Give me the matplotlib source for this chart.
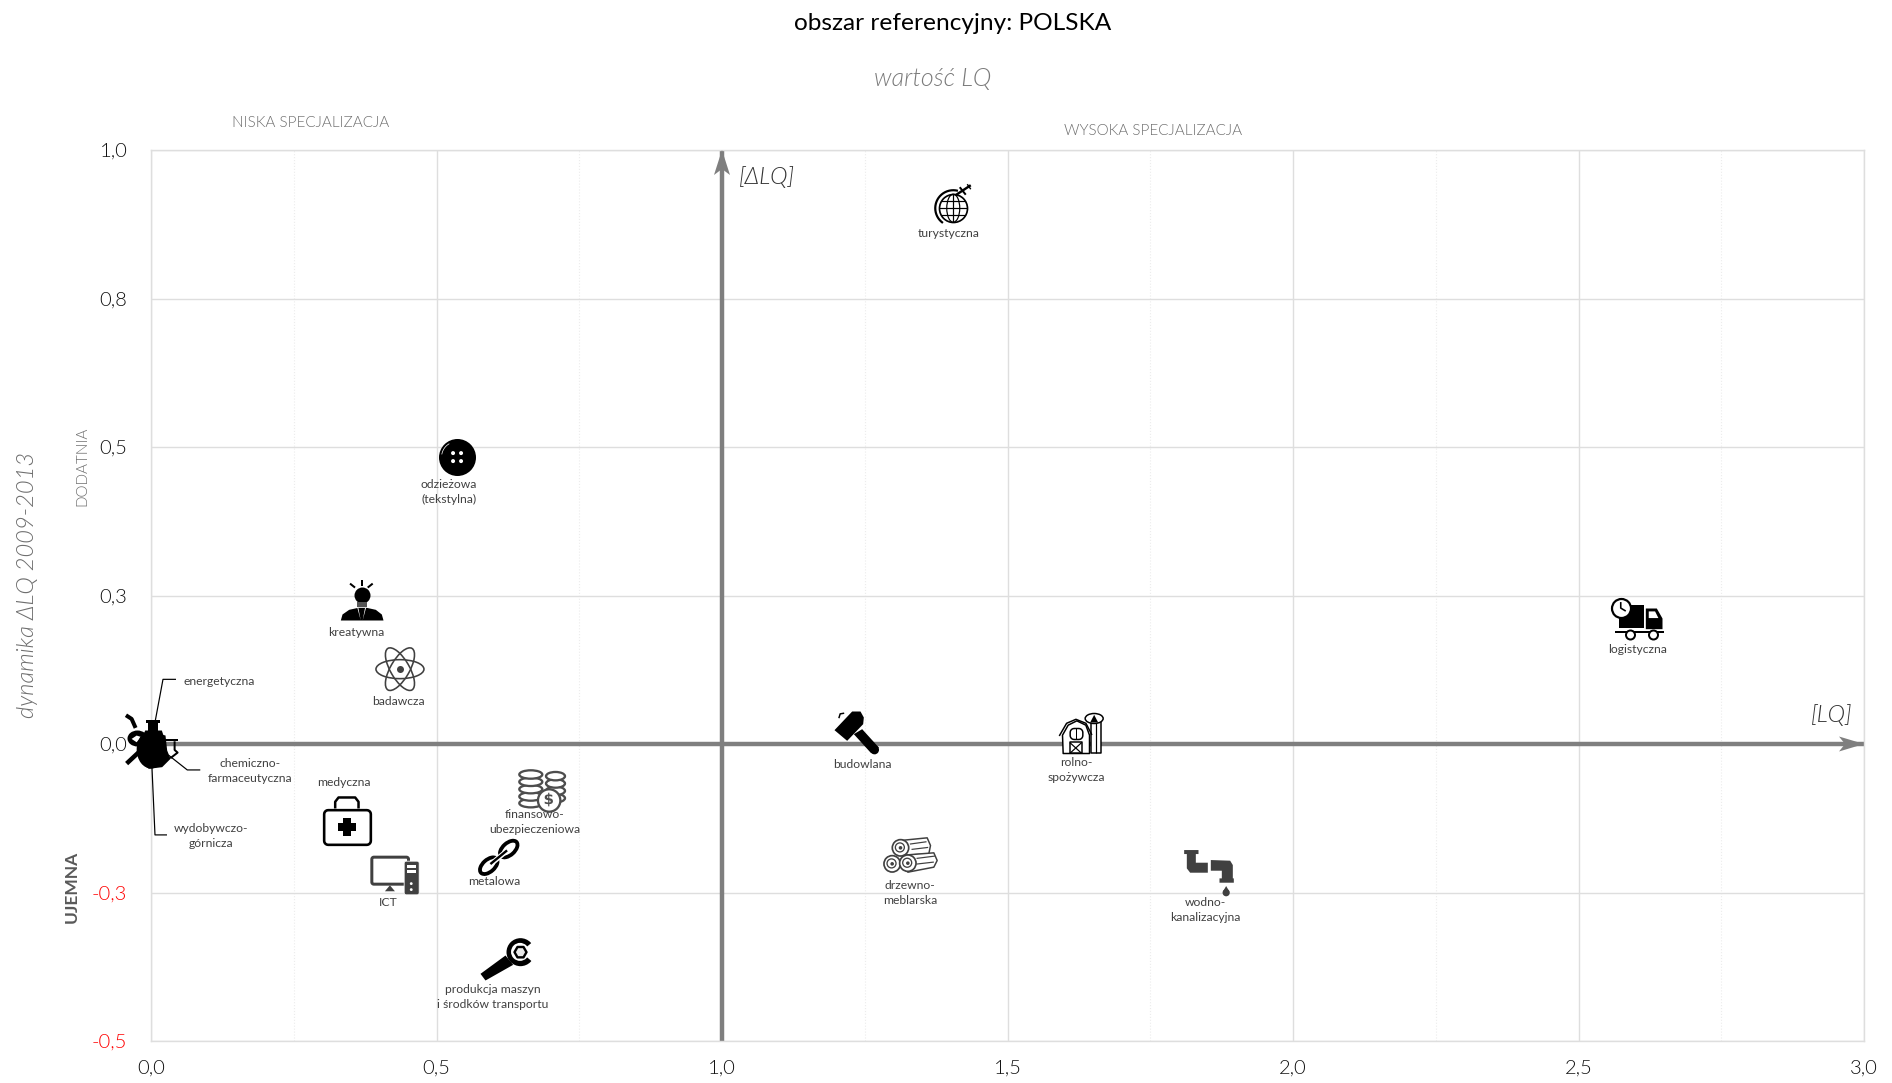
import numpy as np
import matplotlib
matplotlib.use("Agg")
import matplotlib.pyplot as plt
from matplotlib.path import Path
from matplotlib.markers import MarkerStyle
from matplotlib.textpath import TextPath
from matplotlib.font_manager import FontProperties
from matplotlib.transforms import Affine2D

plt.rcParams['font.family'] = ['Lato', 'DejaVu Sans']

# ---------- data ----------
sectors = ["turystyczna", "odzieżowa", "kreatywna", "badawcza", "logistyczna", "budowlana",
           "rolno", "drzewno", "wodno", "finansowo", "medyczna", "ICT", "metalowa", "produkcja",
           "energetyczna", "chemiczna", "wydobywcza"]
lq_values = [1.405, 0.536, 0.369, 0.436, 2.602, 1.235, 1.628, 1.329, 1.852, 0.684, 0.343, 0.426,
             0.609, 0.620, 0.004, 0.025, 0.004]
dlq_values = [0.902, 0.483, 0.242, 0.126, 0.212, 0.021, 0.018, -0.187, -0.215, -0.075, -0.131,
              -0.221, -0.192, -0.364, 0.023, -0.010, -0.015]
sector_labels = ["turystyczna", "odzieżowa\n(tekstylna)", "kreatywna", "badawcza", "logistyczna",
                 "budowlana", "rolno-\nspożywcza", "drzewno-\nmeblarska", "wodno-\nkanalizacyjna",
                 "finansowo-\nubezpieczeniowa", "medyczna", "ICT", "metalowa",
                 "produkcja maszyn\ni środków transportu", "energetyczna",
                 "chemiczno-\nfarmaceutyczna", "wydobywczo-\ngórnicza"]
x_ticks = [0.0, 0.5, 1.0, 1.5, 2.0, 2.5, 3.0]
x_tick_labels = ["0,0", "0,5", "1,0", "1,5", "2,0", "2,5", "3,0"]
x_minor = [0.25, 0.75, 1.25, 1.75, 2.25, 2.75]
y_ticks = [-0.5, -0.25, 0.0, 0.25, 0.5, 0.75, 1.0]
y_tick_labels = ["-0,5", "-0,3", "0,0", "0,3", "0,5", "0,8", "1,0"]

# label offsets from the point, pixels (x right, y down)
label_offsets = [(-5, 25), (-8, 34.5), (-5, 32), (-2, 32), (1, 31), (6, 33), (-4, 37), (0, 38),
                 (-3, 38), (-7, 33), (-3, -39), (-6, 27), (-4, 23), (-12, 37), (66, -49),
                 (85, 21), (58, 83)]

W, H = 1892, 1083
L, R, T, B = 151, 1864, 150, 1041
GREY = "#7f7f7f"
GTXT = "#6e6e6e"
GRID = "#dedede"
TXT = "#404040"
LIGHT = 300

fig = plt.figure(figsize=(W / 100, H / 100), dpi=100, facecolor="white")
ax = fig.add_axes([L / W, 1 - B / H, (R - L) / W, (B - T) / H])
ax.set_xlim(0, 3)
ax.set_ylim(-0.5, 1)
ax.set_xticks(x_ticks, x_tick_labels)
ax.set_yticks(y_ticks, y_tick_labels)
ax.set_xticks(x_minor, minor=True)
ax.tick_params(which="both", length=0)
ax.tick_params(axis="x", pad=13.5, labelsize=14.5, labelcolor="#111111")
ax.tick_params(axis="y", pad=17, labelsize=14.5, labelcolor="#111111")
for lab in ax.get_xticklabels() + ax.get_yticklabels():
    lab.set_fontweight(LIGHT)
for lab, v in zip(ax.get_yticklabels(), y_ticks):
    if v < 0:
        lab.set_color("#ff0000")
ax.grid(True, which="major", color=GRID, lw=1.0, zorder=0)
ax.grid(True, which="minor", axis="x", color="#ececec", lw=0.8, ls=":", zorder=0)
ax.set_axisbelow(True)
for s in ax.spines.values():
    s.set_color(GRID)
    s.set_linewidth(1.0)


# ---------- shape helpers (local pixel coordinates, y pointing down) ----------
def poly(pts, closed=True):
    pts = [tuple(p) for p in pts]
    if closed:
        pts = pts + [pts[0]]
        codes = [Path.MOVETO] + [Path.LINETO] * (len(pts) - 2) + [Path.CLOSEPOLY]
    else:
        codes = [Path.MOVETO] + [Path.LINETO] * (len(pts) - 1)
    return Path(pts, codes)


def rect(x0, y0, x1, y1):
    return poly([(x0, y0), (x1, y0), (x1, y1), (x0, y1)])


def ell(cx, cy, rx, ry=None, rot=0):
    ry = rx if ry is None else ry
    return Path.unit_circle().transformed(Affine2D().scale(rx, ry).rotate_deg(rot).translate(cx, cy))


def arc(cx, cy, r, a0, a1, n=24):
    a = np.radians(np.linspace(a0, a1, n))
    return poly(np.c_[cx + r * np.cos(a), cy + r * np.sin(a)], closed=False)


def rrect(x0, y0, x1, y1, r):
    a = [(x1 - r, y0 + r, -90, 0), (x1 - r, y1 - r, 0, 90), (x0 + r, y1 - r, 90, 180), (x0 + r, y0 + r, 180, 270)]
    pts = []
    for cx, cy, s, e in a:
        for t in np.radians(np.linspace(s, e, 6)):
            pts.append((cx + r * np.cos(t), cy + r * np.sin(t)))
    return poly(pts)


def Z(pts, c):
    return [((x - c[0]) / 3, (y - c[1]) / 3) for x, y in pts]


def glyph(s, size, cx=0, cy=0):
    tp = TextPath((0, 0), s, size=size, prop=FontProperties(family="DejaVu Sans", weight="bold"))
    v = tp.vertices
    m = (v.min(0) + v.max(0)) / 2
    return Path((v - m) * [1, -1] + [cx, cy], tp.codes)


def draw_icon(ax, x, y, layers, z=4):
    for path, face, edge, lw in layers:
        p = path.transformed(Affine2D().scale(1, -1))
        r = np.abs(p.vertices).max()
        if r == 0:
            continue
        ax.scatter([x], [y], marker=MarkerStyle(p), s=(2 * r * 0.72) ** 2, facecolors=face,
                   edgecolors=edge, linewidths=lw * 0.72, clip_on=False, zorder=z)


K = "black"
D = TXT
WH = "white"
NO = "none"


def icon_travel():
    return [(arc(0, 0, 18, 125, 285), NO, K, 2.2),
            (ell(0, 0, 14), WH, K, 1.7), (ell(0, 0, 6.5, 14), NO, K, 1.2),
            (poly([(0, -14), (0, 14)], False), NO, K, 1.2), (poly([(-14, 0), (14, 0)], False), NO, K, 1.2),
            (poly([(-12, -7), (12, -7)], False), NO, K, 1.2), (poly([(-12, 7), (12, 7)], False), NO, K, 1.2),
            (poly([(2.3, -13), (17.5, -23)], False), NO, K, 2.4),
            (poly([(6.5, -21), (12.5, -13.5)], False), NO, K, 2),
            (poly([(14, -24), (17.5, -19)], False), NO, K, 1.4)]


def icon_button():
    L_ = [(ell(0, 0, 18.5), K, K, 0)]
    for a in (-4, 4):
        for b in (-4, 4):
            L_.append((ell(a, b, 2), WH, NO, 0))
    L_.append((arc(0, 0, 15.5, 190, 240), NO, WH, 0.7))
    return L_


def icon_creative():
    c = (125, 540)
    sh = Z([(60, 600), (65, 582), (85, 568), (112, 562), (138, 562), (165, 568), (183, 582), (188, 600)], c)
    return [(poly(Z([(125, 478), (125, 497)], c), False), NO, K, 2),
            (poly(Z([(90, 490), (105, 502)], c), False), NO, K, 2),
            (poly(Z([(158, 490), (143, 502)], c), False), NO, K, 2),
            (ell(0, -5, 8), K, K, 0),
            (rect(-5, 2, 5, 7), "#555555", NO, 0),
            (poly(sh), K, K, 0),
            (poly(Z([(112, 563), (122, 600), (115, 563)], c)), WH, NO, 0),
            (poly(Z([(138, 563), (128, 600), (135, 563)], c)), WH, NO, 0)]


def icon_atom():
    return [(ell(0, 0, 24, 9.5, 0), NO, D, 1.6), (ell(0, 0, 24, 9.5, 60), NO, D, 1.6),
            (ell(0, 0, 24, 9.5, -60), NO, D, 1.6), (ell(0, 0, 3.5), D, D, 0)]


def icon_truck():
    c = (140, 115)
    return [(rect(*Z([(85, 75)], c)[0], *Z([(160, 145)], c)[0]), K, K, 0),
            (poly(Z([(165, 85), (198, 85), (215, 115), (215, 147), (165, 147)], c)), K, K, 0),
            (poly(Z([(176, 95), (195, 95), (205, 115), (176, 115)], c)), WH, NO, 0),
            (rect(*Z([(75, 154)], c)[0], *Z([(222, 160)], c)[0]), K, K, 0),
            (ell(-7, 16.5, 4.5), WH, K, 2), (ell(16, 16.5, 4.5), WH, K, 2),
            (ell(-16, -10, 9.5), WH, K, 2.2),
            (poly([(-16, -16), (-16, -10), (-11, -7)], False), NO, K, 1.6)]


def icon_hammer():
    c = (108, 125)
    return [(poly(Z([(42, 118), (95, 62), (120, 62), (130, 80), (128, 100), (80, 150)], c)), K, K, 0),
            (poly(Z([(100, 130), (125, 115), (175, 170), (165, 190), (150, 185)], c)), K, K, 0),
            (ell(*Z([(162, 177)], c)[0], 4.5), K, K, 0),
            (poly(Z([(56, 85), (60, 72), (72, 70)], c), False), NO, K, 1.5)]


def icon_barn():
    c = (782, 130)
    lw = 1.5
    return [(rect(*Z([(812, 95)], c)[0], *Z([(842, 190)], c)[0]), WH, K, lw),
            (poly(Z([(827, 95), (827, 190)], c), False), NO, K, 1.2),
            (ell(*Z([(820, 85)], c)[0], 9, 5), WH, K, lw),
            (poly(Z([(808, 97), (820, 74), (832, 97)], c)), K, K, 0),
            (poly(Z([(725, 135), (742, 105), (768, 92), (795, 105), (806, 135), (806, 190), (727, 190)], c)), WH, K, lw),
            (poly(Z([(718, 138), (740, 100), (768, 88), (798, 100), (816, 135)], c), False), NO, K, lw),
            (rrect(*Z([(748, 115)], c)[0], *Z([(786, 148)], c)[0], 4), WH, K, lw),
            (poly(Z([(767, 115), (767, 148)], c), False), NO, K, 1),
            (rect(*Z([(750, 158)], c)[0], *Z([(785, 190)], c)[0]), WH, K, lw),
            (poly(Z([(750, 158), (785, 190)], c), False), NO, K, 1.2),
            (poly(Z([(785, 158), (750, 190)], c), False), NO, K, 1.2)]


def icon_logs():
    c = (270, 495)
    L_ = [(poly(Z([(240, 450), (320, 442), (330, 465), (325, 490), (240, 495)], c)), WH, D, 1.5),
          (poly(Z([(262, 493), (340, 487), (350, 510), (340, 530), (262, 545)], c)), WH, D, 1.5),
          (poly(Z([(270, 462), (320, 455)], c), False), NO, D, 1.2),
          (poly(Z([(275, 478), (325, 472)], c), False), NO, D, 1.2),
          (poly(Z([(290, 505), (345, 498)], c), False), NO, D, 1.2),
          (poly(Z([(290, 522), (342, 516)], c), False), NO, D, 1.2)]
    for z in [(240, 472), (215, 520), (262, 518)]:
        cx, cy = Z([z], c)[0]
        L_ += [(ell(cx, cy, 8.2), WH, D, 1.7), (ell(cx, cy, 4.5), NO, D, 1.3), (ell(cx, cy, 1.8), D, D, 0)]
    return L_


def icon_pipes():
    c = (1165, 545)
    return [(poly(Z([(1092, 480), (1135, 480), (1135, 492), (1127, 492), (1127, 518), (1163, 518), (1163, 548),
                     (1110, 548), (1100, 535), (1100, 492), (1092, 492)], c)), D, NO, 0),
            (poly(Z([(1172, 510), (1230, 512), (1238, 525), (1238, 565), (1241, 565), (1241, 578), (1198, 578),
                     (1198, 565), (1205, 565), (1205, 542), (1172, 542)], c)), D, NO, 0),
            (ell(*Z([(1218, 608)], c)[0], 3.6), D, NO, 0),
            (poly(Z([(1218, 588), (1208, 605), (1228, 605)], c)), D, NO, 0)]


def icon_coins():
    c = (95, 85)
    col = "#4d4d4d"
    L_ = []
    for cx, rx, rows in [(13, 9.5, (45, 67, 89, 111)), (-11.7, 11.5, (40, 62, 84, 106, 126))]:
        for r in rows[::-1]:
            L_.append((ell(cx, (r - c[1]) / 3, rx, 4.2), WH, col, 2.3))
    L_ += [(ell(*Z([(115, 118)], c)[0], 11.2), WH, col, 2.3),
           (glyph("$", 15, *Z([(115, 118)], c)[0]), col, NO, 0)]
    return L_


def icon_medic():
    c = (140, 185)
    return [(poly(Z([(105, 145), (105, 125), (115, 112), (165, 112), (175, 125), (175, 145)], c), False), NO, K, 2.5),
            (rrect(*Z([(70, 148)], c)[0], *Z([(210, 252)], c)[0], 4), WH, K, 2.6),
            (rect(*Z([(112, 188)], c)[0], *Z([(168, 212)], c)[0]), K, K, 0),
            (rect(*Z([(128, 172)], c)[0], *Z([(152, 228)], c)[0]), K, K, 0)]


def icon_pc():
    c = (283, 345)
    return [(poly(Z([(255, 393), (285, 393), (270, 375)], c)), D, NO, 0),
            (rrect(*Z([(215, 290)], c)[0], *Z([(325, 371)], c)[0], 2), WH, D, 3),
            (rrect(*Z([(312, 302)], c)[0], *Z([(357, 403)], c)[0], 2), D, WH, 0.8),
            (rect(*Z([(322, 313)], c)[0], *Z([(348, 322)], c)[0]), WH, NO, 0),
            (rect(*Z([(322, 328)], c)[0], *Z([(348, 337)], c)[0]), WH, NO, 0),
            (ell(*Z([(334, 370)], c)[0], 1.4), WH, NO, 0),
            (ell(*Z([(334, 388)], c)[0], 1.4), WH, NO, 0)]


def icon_chain():
    c = (595, 295)
    a = Z([(565, 318)], c)[0]
    b = Z([(625, 268)], c)[0]
    return [(ell(a[0], a[1], 10.5, 6, -42), NO, K, 3.8), (ell(b[0], b[1], 10.5, 6, -42), NO, K, 3.8),
            (poly(Z([(575, 310), (615, 277)], c), False), NO, WH, 5),
            (poly(Z([(570, 313), (620, 272)], c), False), NO, K, 2.4)]


def icon_wrench():
    c = (105, 105)
    h = Z([(150, 80)], c)[0]
    ang = np.radians(np.arange(0, 360, 60))
    return [(poly(Z([(30, 145), (45, 165), (128, 118), (105, 90)], c)), K, K, 0),
            (ell(h[0], h[1], 14), K, K, 0),
            (poly(Z([(152, 80), (200, 40), (205, 125)], c)), WH, NO, 0),
            (ell(h[0], h[1], 9), WH, NO, 0),
            (poly(np.c_[h[0] + 6 * np.cos(ang), h[1] + 6 * np.sin(ang)]), "#e8e8e8", K, 2.4)]


def icon_energy():
    c = (115, 90)
    leader = [(155 - 153.3, 722 - 730), (163 - 153.3, 679 - 730), (176 - 153.3, 679 - 730)]
    return [(poly(leader, False), NO, K, 1.2),
            (rect(*Z([(95, 60)], c)[0], *Z([(135, 70)], c)[0]), K, K, 0),
            (rect(*Z([(100, 70)], c)[0], *Z([(130, 95)], c)[0]), K, K, 0),
            (poly(Z([(90, 90), (140, 90), (150, 120), (75, 130)], c)), K, K, 0)]


def icon_chem():
    c = (150, 150)
    leader = [(168 - 165, 755 - 750), (187 - 165, 770 - 750), (200 - 165, 770 - 750)]
    return [(poly(leader, False), NO, K, 1.2),
            (rect(*Z([(150, 116)], c)[0], *Z([(190, 124)], c)[0]), K, K, 0),
            (poly(Z([(178, 124), (178, 150), (187, 158), (165, 175)], c), False), NO, K, 2),
            (poly(Z([(130, 100), (150, 105), (155, 150), (165, 175), (140, 200), (100, 205), (80, 190)], c)), K, K, 0)]


def icon_mining():
    c = (115, 160)
    leader = [(152 - 153.3, 768 - 753), (155 - 153.3, 835 - 753), (167 - 153.3, 835 - 753)]
    return [(poly(leader, False), NO, K, 1.2),
            (poly(Z([(33, 47), (50, 58), (62, 85)], c), False), NO, K, 4),
            (poly(Z([(35, 192), (80, 150)], c), False), NO, K, 4.5),
            (ell(*Z([(67, 115)], c)[0], 10, 8), K, K, 0),
            (poly(Z([(50, 118), (65, 108), (78, 112), (65, 128)], c)), WH, NO, 0),
            (ell(*Z([(108, 148)], c)[0], 14.5, 19), K, K, 0)]


icon_builders = [icon_travel, icon_button, icon_creative, icon_atom, icon_truck, icon_hammer, icon_barn,
                 icon_logs, icon_pipes, icon_coins, icon_medic, icon_pc, icon_chain, icon_wrench,
                 icon_energy, icon_chem, icon_mining]

# ---------- axes arrows ----------
ax.plot([0, 3], [0, 0], color=GREY, lw=3.2, solid_capstyle="butt", zorder=2, clip_on=False)
ax.plot([1, 1], [-0.5, 1], color=GREY, lw=3.2, solid_capstyle="butt", zorder=2, clip_on=False)
draw_icon(ax, 3, 0, [(poly([(0, 0), (-25, -7.5), (-19, 0), (-25, 7.5)]), GREY, NO, 0)], z=3)
draw_icon(ax, 1, 1, [(poly([(0, 0), (-8, 25), (0, 19), (8, 25)]), GREY, NO, 0)], z=3)

# ---------- marks ----------
for build, x, y in zip(icon_builders, lq_values, dlq_values):
    draw_icon(ax, x, y, build())
for lab, x, y, (dx, dy) in zip(sector_labels, lq_values, dlq_values, label_offsets):
    ax.annotate(lab, xy=(x, y), xytext=(dx * 0.72, -dy * 0.72), textcoords="offset points",
                ha="center", va="center", ma="center", fontsize=8.7, color=TXT, linespacing=1.45,
                zorder=5, annotation_clip=False)


def ftext(px, py, s, **kw):
    fig.text(px / W, 1 - py / H, s, ha="center", va="center", **kw)


ftext(953, 24, "obszar referencyjny: POLSKA", fontsize=17.6, color="black")
ftext(933, 79, "wartość LQ", fontsize=18, color="#7a7a7a", style="italic", fontweight=LIGHT)
ftext(311, 123, "NISKA SPECJALIZACJA", fontsize=11, color=GTXT, fontweight=LIGHT)
ftext(1153, 131, "WYSOKA SPECJALIZACJA", fontsize=11, color=GTXT, fontweight=LIGHT)
ftext(82, 466, "DODATNIA", fontsize=11, color=GTXT, fontweight=LIGHT, rotation=90)
ftext(72, 887, "UJEMNA", fontsize=12.5, color="#595959", fontweight="bold", rotation=90)
ftext(28, 585, "dynamika ΔLQ 2009-2013", fontsize=17, color="#6e6e6e", style="italic",
      fontweight=LIGHT, rotation=90)
ftext(767, 177, "[ΔLQ]", fontsize=17, color="#333333", style="italic", fontweight=LIGHT)
ftext(1832, 715, "[LQ]", fontsize=17, color="#333333", style="italic", fontweight=LIGHT)

fig.savefig("out.png", dpi=100)
